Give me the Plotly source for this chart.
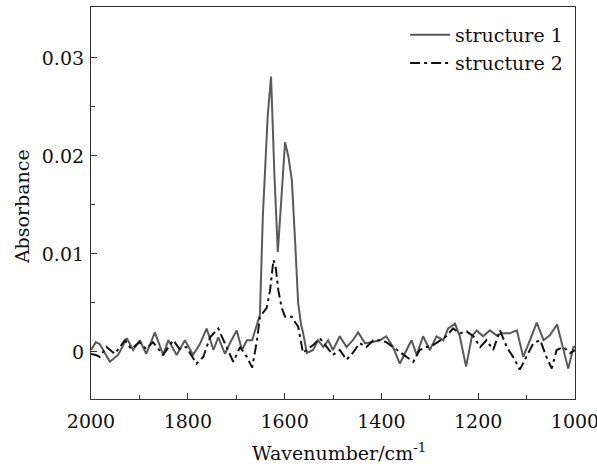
import plotly.graph_objects as go

# structure 1 (solid grey)
wn_1 = [2000, 1990, 1982, 1961, 1944, 1926, 1913, 1899, 1886, 1868, 1851, 1840, 1823, 1806,
        1789, 1775, 1761, 1747, 1737, 1723, 1712, 1699, 1688, 1678, 1667, 1657, 1651, 1645,
        1640, 1635, 1628, 1621, 1614, 1607, 1599, 1592, 1585, 1578, 1572, 1566, 1562, 1554,
        1541, 1531, 1520, 1510, 1500, 1486, 1472, 1459, 1448, 1434, 1420, 1403, 1390, 1376,
        1362, 1348, 1338, 1327, 1314, 1300, 1286, 1272, 1262, 1248, 1238, 1225, 1213, 1203,
        1190, 1176, 1162, 1149, 1135, 1120, 1107, 1093, 1079, 1065, 1052, 1037, 1024, 1014,
        1003, 1000]
abs_1 = [0.0002, 0.0010, 0.0008, -0.0010, -0.0003, 0.0014, 0.0002, 0.0012, -0.0002, 0.0020,
         -0.0003, 0.0012, -0.0003, 0.0012, -0.0003, 0.0008, 0.0024, 0.0002, 0.0015, -0.0002,
         0.0010, 0.0022, 0.0002, 0.0012, 0.0012, 0.0030, 0.0038, 0.0138, 0.0190, 0.0240,
         0.0281, 0.0180, 0.0102, 0.0160, 0.0214, 0.0199, 0.0175, 0.0110, 0.0050, 0.0028,
         0.0020, -0.0001, 0.0002, 0.0012, 0.0005, 0.0012, 0.0002, 0.0016, 0.0005, 0.0012,
         0.0020, 0.0009, 0.0010, 0.0012, 0.0016, 0.0005, -0.0012, 0.0002, 0.0012, -0.0003,
         0.0016, 0.0002, 0.0016, 0.0012, 0.0024, 0.0029, 0.0016, -0.0015, 0.0016, 0.0022,
         0.0016, 0.0022, 0.0017, 0.0019, 0.0019, 0.0022, -0.0005, 0.0012, 0.0030, 0.0012,
         0.0017, 0.0028, 0.0002, -0.0017, 0.0005, 0.0005]

# structure 2 (dash-dot black)
wn_2 = [2000, 1990, 1982, 1968, 1951, 1930, 1917, 1900, 1886, 1872, 1851, 1830, 1817, 1803,
        1782, 1768, 1754, 1737, 1720, 1706, 1692, 1678, 1667, 1657, 1651, 1644, 1637, 1630,
        1623, 1618, 1613, 1606, 1599, 1592, 1585, 1578, 1572, 1566, 1562, 1555, 1541, 1527,
        1513, 1500, 1486, 1472, 1459, 1445, 1431, 1417, 1403, 1390, 1376, 1362, 1348, 1334,
        1321, 1307, 1293, 1279, 1266, 1252, 1238, 1224, 1210, 1196, 1183, 1169, 1155, 1141,
        1128, 1114, 1100, 1086, 1072, 1059, 1048, 1038, 1024, 1010, 1000]
abs_2 = [-0.0002, -0.0003, -0.0005, 0.0005, -0.0002, 0.0012, 0.0003, 0.0010, 0.0003, 0.0010,
         -0.0003, 0.0012, 0.0003, 0.0005, -0.0012, -0.0005, 0.0015, 0.0024, 0.0005, -0.0010,
         0.0005, -0.0005, -0.0016, 0.0012, 0.0036, 0.0040, 0.0045, 0.0063, 0.0094, 0.0085,
         0.0063, 0.0045, 0.0036, 0.0036, 0.0036, 0.0030, 0.0026, 0.0010, -0.0001, 0.0002,
         0.0007, 0.0014, 0.0005, -0.0003, 0.0002, -0.0008, -0.0001, 0.0009, 0.0005, 0.0012,
         0.0012, 0.0010, 0.0005, 0.0000, -0.0005, -0.0010, 0.0002, 0.0005, 0.0007, 0.0012,
         0.0016, 0.0024, 0.0019, 0.0021, 0.0016, 0.0005, 0.0012, 0.0002, 0.0022, 0.0005,
         -0.0005, -0.0018, -0.0005, 0.0009, 0.0012, -0.0005, -0.0017, 0.0002, 0.0005, -0.0001,
         0.0002]

# DejaVu Serif is the serif face that renders reliably here
serif = "DejaVu Serif"
ink = "#111111"
txt = dict(family=serif, size=19, color=ink)

fig = go.Figure()
fig.add_trace(go.Scatter(x=wn_1, y=abs_1, mode="lines", name="structure 1",
                         line=dict(color="#5a5a5a", width=2), legend="legend"))
fig.add_trace(go.Scatter(x=wn_2, y=abs_2, mode="lines", name="structure 2",
                         line=dict(color=ink, width=2, dash="10px,4px,3px,4px"),
                         legend="legend2"))

axis_common = dict(showline=True, linecolor="#333333", linewidth=1.2, mirror=True,
                   ticks="inside", ticklen=6, tickwidth=1.2, tickcolor="#333333",
                   showgrid=False, zeroline=False, automargin=False, tickfont=txt,
                   ticklabeloverflow="allow")

fig.update_xaxes(range=[2000, 1000], tickvals=[2000, 1800, 1600, 1400, 1200, 1000],
                 minor=dict(ticks="inside", ticklen=4, tickcolor="#333333",
                            tickvals=[1900, 1700, 1500, 1300, 1100]),
                 ticklabelstandoff=5, **axis_common)
fig.update_yaxes(range=[-0.0048, 0.0352], tickvals=[0, 0.01, 0.02, 0.03],
                 ticktext=["0", "0.01", "0.02", "0.03"],
                 minor=dict(ticks="inside", ticklen=4, tickcolor="#333333",
                            tickvals=[0.005, 0.015, 0.025]),
                 ticklabelstandoff=2, **axis_common)

# axis titles as annotations for exact placement
fig.add_annotation(text="Absorbance", xref="paper", yref="paper", x=-0.1426, y=0.492,
                   xanchor="center", yanchor="middle", textangle=-90, showarrow=False,
                   font=txt)
fig.add_annotation(text="Wavenumber/cm<sup>-1</sup>", xref="paper", yref="paper",
                   x=0.512, y=-0.135, xanchor="center", yanchor="middle",
                   showarrow=False, font=txt)

leg_style = dict(xanchor="left", yanchor="middle", bgcolor="rgba(0,0,0,0)",
                 font=txt, itemwidth=40)

fig.update_layout(
    width=597, height=469,
    margin=dict(l=91, r=22, t=7, b=70),
    paper_bgcolor="white", plot_bgcolor="white",
    legend=dict(x=0.649, y=0.929, **leg_style),
    legend2=dict(x=0.649, y=0.857, **leg_style),
    showlegend=True,
)

fig.write_html("out.html", config={"displayModeBar": False},
               post_script="document.body.style.margin='0';")
